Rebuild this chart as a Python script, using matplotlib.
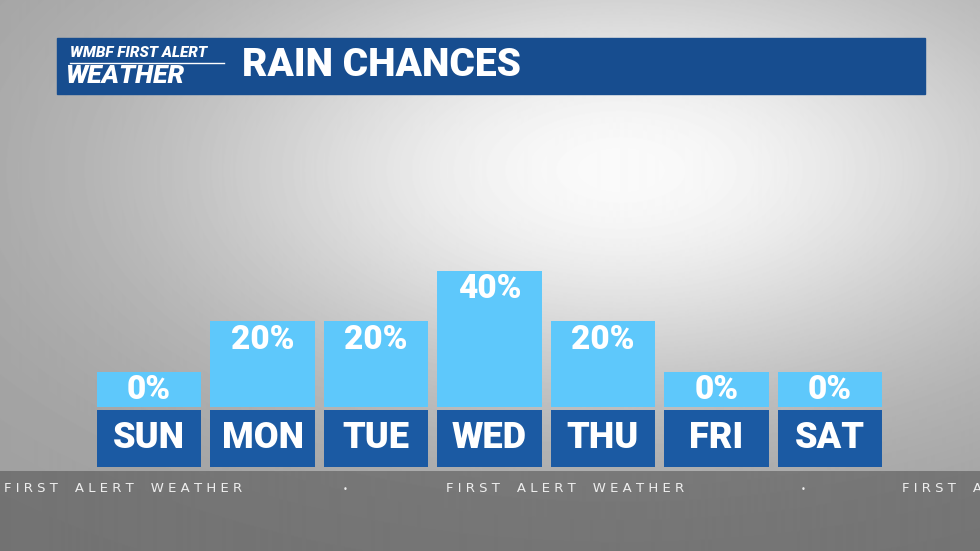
import numpy as np
import matplotlib
matplotlib.use('Agg')
import matplotlib.pyplot as plt
from matplotlib.patches import Rectangle

days = ['SUN', 'MON', 'TUE', 'WED', 'THU', 'FRI', 'SAT']
rain_pct = [0, 20, 20, 40, 20, 0, 0]

W, H = 980, 551
fig = plt.figure(figsize=(9.8, 5.51), dpi=100)

# background
bg = fig.add_axes([0, 0, 1, 1])
yy, xx = np.mgrid[0:H, 0:W]
glow = np.exp(-(((xx - 620) / 450.0) ** 2 + ((yy - 170) / 230.0) ** 2))
shade = 0.62 + 0.36 * glow
low = yy > 470
shade[low] = 0.45 + 0.15 * glow[low]
bg.imshow(shade, cmap='gray', vmin=0, vmax=1, extent=(0, W, H, 0), aspect='auto')
bg.set_xlim(0, W)
bg.set_ylim(H, 0)
bg.axis('off')

# header
bg.add_patch(Rectangle((57, 38), 868, 56, color='#174d8f'))
bg.text(70, 53, 'WMBF FIRST ALERT', color='white', fontsize=11, fontweight='black',
        style='italic', family='Roboto', va='center')
bg.plot([70, 224], [63, 63], color='white', lw=1)
bg.text(66, 76, 'WEATHER', color='white', fontsize=19, fontweight='black',
        style='italic', family='Roboto', va='center')
bg.text(242, 66, 'RAIN CHANCES', color='white', fontsize=28, fontweight='black',
        family='Roboto', va='center')

# ticker
for x0, txt in [(4, 'FIRST ALERT WEATHER'), (446, 'FIRST ALERT WEATHER'), (902, 'FIRST A')]:
    bg.text(x0, 488, ' '.join(txt).replace('   ', '    '), color='#eeeeee', fontsize=9.5,
            family='DejaVu Sans', va='center', clip_on=True)
for xd in [345, 803]:
    bg.text(xd, 489, '•', color='#eeeeee', fontsize=6, ha='center', va='center')

# bars
ax = fig.add_axes([97 / W, (H - 467) / H, 785 / W, 196 / H])
ax.patch.set_alpha(0)
stub = 14.2
x = np.arange(len(days))
ax.bar(x, [p + stub for p in rain_pct], width=0.92, color='#5ec8fb', bottom=0)
ax.bar(x, [22.6] * len(days), width=0.92, bottom=-23.8, color='#1b5aa3')
for i, (d, p) in enumerate(zip(days, rain_pct)):
    ax.text(i, p + stub - 0.9, f'{p}%', color='white', fontsize=24, fontweight='black',
            family='Roboto', ha='center', va='top')
    ax.text(i, -12.4, d, color='white', fontsize=26, fontweight='black',
            family='Roboto', ha='center', va='center')
ax.set_xlim(-0.46, 6.46)
ax.set_ylim(-23.8, 40 + stub)
ax.axis('off')

fig.savefig('out.png', dpi=100)
